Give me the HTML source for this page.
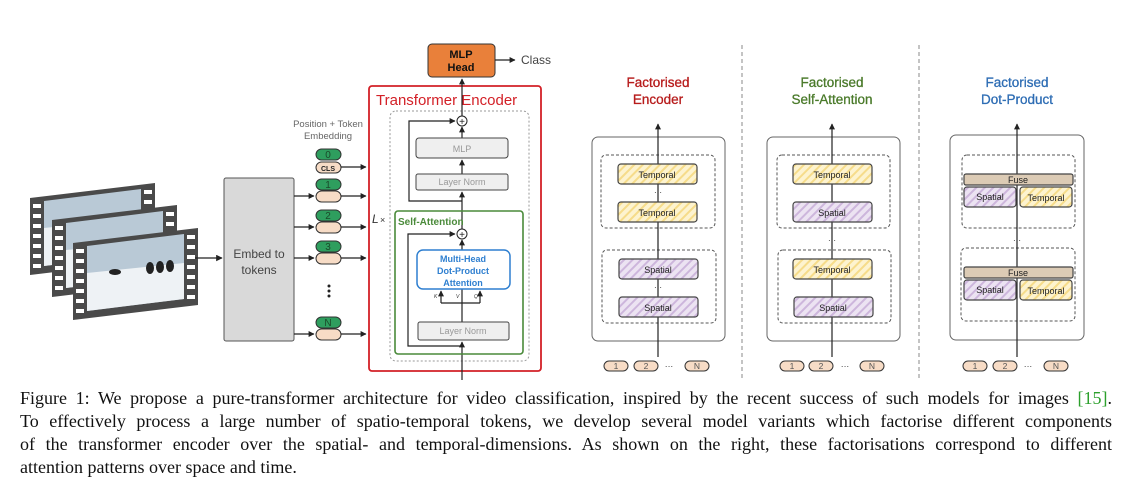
<!DOCTYPE html>
<html><head><meta charset="utf-8"><style>
html,body{margin:0;padding:0;background:#fff;width:1126px;height:484px;overflow:hidden}
svg text{font-family:"Liberation Sans",sans-serif}
.cap{position:absolute;left:20px;top:387px;width:1092px;font-family:"Liberation Serif",serif;font-size:18px;line-height:23px;color:#111}
.cap div{text-align:justify;text-align-last:justify;white-space:nowrap}
.cap div.l{text-align-last:left}
</style></head><body>
<svg width="1126" height="484" viewBox="0 0 1126 484" style="position:absolute;left:0;top:0">
<defs>
<marker id="a" viewBox="0 0 10 10" refX="9" refY="5" markerWidth="5" markerHeight="5" orient="auto"><path d="M0,0L10,5L0,10z" fill="#222"/></marker>
<pattern id="py" width="6" height="6" patternUnits="userSpaceOnUse" patternTransform="rotate(45)"><rect width="6" height="6" fill="#fdf3cf"/><rect width="2" height="6" fill="#f6dc8a"/></pattern>
<pattern id="pp" width="6" height="6" patternUnits="userSpaceOnUse" patternTransform="rotate(45)"><rect width="6" height="6" fill="#ece3f2"/><rect width="2" height="6" fill="#cdb6dc"/></pattern>
<g id="film">
<polygon points="0,0 125,-15 125,62 0,77" fill="#4a4a4a"/>
<polygon points="14,3 111,-9 111,56 14,68" fill="#b9c9d6"/>
<polygon points="14,30 111,20 111,56 14,68" fill="#eef2f5"/>
<g fill="#fff"><rect x="3" y="6" width="8" height="4"/><rect x="3" y="16" width="8" height="4"/><rect x="3" y="26" width="8" height="4"/><rect x="3" y="36" width="8" height="4"/><rect x="3" y="46" width="8" height="4"/><rect x="3" y="56" width="8" height="4"/><rect x="3" y="66" width="8" height="4"/>
<rect x="114" y="-8" width="8" height="4"/><rect x="114" y="2" width="8" height="4"/><rect x="114" y="12" width="8" height="4"/><rect x="114" y="22" width="8" height="4"/><rect x="114" y="32" width="8" height="4"/><rect x="114" y="42" width="8" height="4"/><rect x="114" y="52" width="8" height="4"/></g>
</g>
</defs>
<use href="#film" x="30" y="198"/>
<use href="#film" x="52" y="220"/>
<use href="#film" x="73" y="243"/>
<g fill="#222"><ellipse cx="150" cy="268" rx="4" ry="6"/><ellipse cx="160" cy="267" rx="4" ry="6"/><ellipse cx="170" cy="266" rx="4" ry="6"/><ellipse cx="115" cy="272" rx="6" ry="3"/></g>
<line x1="195" y1="258" x2="222" y2="258" stroke="#222" stroke-width="1.3" marker-end="url(#a)"/>
<rect x="224" y="178" width="70" height="163" rx="2" fill="#d9d9d9" stroke="#555" stroke-width="1"/>
<text x="259" y="258" font-size="12" fill="#444" text-anchor="middle">Embed to</text>
<text x="259" y="274" font-size="12" fill="#444" text-anchor="middle">tokens</text>
<text x="328" y="127" font-size="9.5" fill="#666" text-anchor="middle">Position + Token</text>
<text x="328" y="139" font-size="9.5" fill="#666" text-anchor="middle">Embedding</text>
<g stroke="#333" stroke-width="1">
<rect x="316" y="149" width="25" height="11" rx="5.5" fill="#2e9e5e"/>
<rect x="316" y="162" width="25" height="11" rx="5.5" fill="#f7dcc6"/>
<rect x="316" y="179" width="25" height="11" rx="5.5" fill="#2e9e5e"/>
<rect x="316" y="191" width="25" height="11" rx="5.5" fill="#f7dcc6"/>
<rect x="316" y="210" width="25" height="11" rx="5.5" fill="#2e9e5e"/>
<rect x="316" y="222" width="25" height="11" rx="5.5" fill="#f7dcc6"/>
<rect x="316" y="241" width="25" height="11" rx="5.5" fill="#2e9e5e"/>
<rect x="316" y="253" width="25" height="11" rx="5.5" fill="#f7dcc6"/>
<rect x="316" y="317" width="25" height="11" rx="5.5" fill="#2e9e5e"/>
<rect x="316" y="329" width="25" height="11" rx="5.5" fill="#f7dcc6"/>
</g>
<g font-size="10" fill="#1a4a2a" text-anchor="middle"><text x="328" y="158">0</text><text x="328" y="188">1</text><text x="328" y="219">2</text><text x="328" y="250">3</text><text x="328" y="326">N</text></g>
<text x="328" y="171" font-size="7" font-weight="bold" fill="#222" text-anchor="middle">CLS</text>
<g fill="#222"><circle cx="329" cy="286" r="1.5"/><circle cx="329" cy="291" r="1.5"/><circle cx="329" cy="296" r="1.5"/></g>
<g stroke="#222" stroke-width="1.2" marker-end="url(#a)">
<line x1="294" y1="196" x2="314" y2="196"/><line x1="294" y1="227" x2="314" y2="227"/><line x1="294" y1="258" x2="314" y2="258"/><line x1="294" y1="334" x2="314" y2="334"/>
<line x1="341" y1="167" x2="366" y2="167"/><line x1="341" y1="196" x2="366" y2="196"/><line x1="341" y1="227" x2="366" y2="227"/><line x1="341" y1="258" x2="366" y2="258"/><line x1="341" y1="334" x2="366" y2="334"/>
</g>
<rect x="369" y="86" width="172" height="285" rx="3" fill="none" stroke="#d32027" stroke-width="1.8"/>
<text x="376" y="105" font-size="15" fill="#d32027">Transformer  Encoder</text>
<rect x="390" y="111" width="139" height="250" rx="6" fill="none" stroke="#999" stroke-width="1" stroke-dasharray="2,2"/>
<rect x="428" y="44" width="67" height="33" rx="4" fill="#e9803a" stroke="#333" stroke-width="1"/>
<text x="461" y="58" font-size="11" font-weight="bold" fill="#111" text-anchor="middle">MLP</text>
<text x="461" y="71" font-size="11" font-weight="bold" fill="#111" text-anchor="middle">Head</text>
<line x1="495" y1="60" x2="515" y2="60" stroke="#222" stroke-width="1.2" marker-end="url(#a)"/>
<text x="521" y="64" font-size="12" fill="#444">Class</text>
<g stroke="#222" stroke-width="1.2" fill="none">
<line x1="462" y1="380" x2="462" y2="342" marker-end="url(#a)"/>
<line x1="462" y1="322" x2="462" y2="240" marker-end="url(#a)"/>
<polyline points="462,346 408,346 408,234 455,234" marker-end="url(#a)"/>
<polyline points="441,303 480,303"/>
<line x1="441" y1="303" x2="441" y2="291" marker-end="url(#a)"/>
<line x1="480" y1="303" x2="480" y2="291" marker-end="url(#a)"/>
<line x1="462" y1="229" x2="462" y2="192" marker-end="url(#a)"/>
<line x1="462" y1="174" x2="462" y2="160" marker-end="url(#a)"/>
<line x1="462" y1="138" x2="462" y2="127" marker-end="url(#a)"/>
<polyline points="462,201 409,201 409,121 455,121" marker-end="url(#a)"/>
<line x1="462" y1="116" x2="462" y2="79" marker-end="url(#a)"/>
</g>
<circle cx="462" cy="121" r="5" fill="#fff" stroke="#222"/><text x="462" y="125" font-size="10" text-anchor="middle" fill="#222">+</text>
<circle cx="462" cy="234" r="5" fill="#fff" stroke="#222"/><text x="462" y="238" font-size="10" text-anchor="middle" fill="#222">+</text>
<rect x="416" y="138" width="92" height="20" rx="3" fill="#efefef" stroke="#444"/>
<text x="462" y="152" font-size="9" fill="#999" text-anchor="middle">MLP</text>
<rect x="416" y="174" width="92" height="16" rx="2" fill="#efefef" stroke="#444"/>
<text x="462" y="185" font-size="9" fill="#999" text-anchor="middle">Layer Norm</text>
<text x="372" y="223" font-size="12" font-style="italic" fill="#333">L</text><text x="380" y="223" font-size="9" fill="#333">×</text>
<rect x="395" y="211" width="128" height="143" rx="3" fill="none" stroke="#4a8a3a" stroke-width="1.6"/>
<text x="398" y="225" font-size="10" font-weight="bold" fill="#4a8a3a">Self-Attention</text>
<rect x="417" y="250" width="93" height="39" rx="6" fill="#fff" stroke="#2e7fd0" stroke-width="1.5"/>
<g font-size="9" font-weight="bold" fill="#2e7fd0" text-anchor="middle"><text x="463" y="262">Multi-Head</text><text x="463" y="274">Dot-Product</text><text x="463" y="286">Attention</text></g>
<g font-size="5" fill="#333" font-style="italic"><text x="434" y="298">K</text><text x="456" y="298">V</text><text x="474" y="298">Q</text></g>
<rect x="418" y="322" width="91" height="18" rx="2" fill="#efefef" stroke="#444"/>
<text x="463" y="334" font-size="9" fill="#999" text-anchor="middle">Layer Norm</text>
<line x1="742" y1="45" x2="742" y2="380" stroke="#888" stroke-dasharray="4,3"/>
<line x1="919" y1="45" x2="919" y2="380" stroke="#888" stroke-dasharray="4,3"/>
<g font-size="13.5" text-anchor="middle" stroke-width="0.3"><text x="658" y="87" fill="#b71c1c" stroke="#b71c1c">Factorised</text><text x="658" y="104" fill="#b71c1c" stroke="#b71c1c">Encoder</text>
<text x="832" y="87" fill="#4a7a2a" stroke="#4a7a2a">Factorised</text><text x="832" y="104" fill="#4a7a2a" stroke="#4a7a2a">Self-Attention</text>
<text x="1017" y="87" fill="#2e6db4" stroke="#2e6db4">Factorised</text><text x="1017" y="104" fill="#2e6db4" stroke="#2e6db4">Dot-Product</text></g>
<g fill="none" stroke="#666" stroke-width="1">
<rect x="592" y="137" width="133" height="204" rx="6"/>
<rect x="767" y="137" width="133" height="204" rx="6"/>
<rect x="950" y="135" width="134" height="205" rx="6"/>
</g>
<g fill="none" stroke="#555" stroke-dasharray="3,2">
<rect x="601" y="155" width="114" height="73" rx="5"/><rect x="602" y="250" width="114" height="73" rx="5"/>
<rect x="777" y="155" width="113" height="73" rx="5"/><rect x="778" y="250" width="113" height="73" rx="5"/>
<rect x="962" y="155" width="113" height="73" rx="5"/><rect x="961" y="248" width="114" height="73" rx="5"/>
</g>
<g stroke="#222" stroke-width="1.2" marker-end="url(#a)">
<line x1="658" y1="357" x2="658" y2="124"/><line x1="832" y1="357" x2="832" y2="124"/><line x1="1017" y1="357" x2="1017" y2="124"/>
</g>
<g stroke="#444" stroke-width="1.2">
<rect x="618" y="164" width="79" height="20" rx="3" fill="url(#py)"/><rect x="618" y="202" width="79" height="20" rx="3" fill="url(#py)"/>
<rect x="619" y="259" width="79" height="20" rx="3" fill="url(#pp)"/><rect x="619" y="297" width="79" height="20" rx="3" fill="url(#pp)"/>
<rect x="793" y="164" width="79" height="20" rx="3" fill="url(#py)"/><rect x="793" y="202" width="79" height="20" rx="3" fill="url(#pp)"/>
<rect x="793" y="259" width="79" height="20" rx="3" fill="url(#py)"/><rect x="794" y="297" width="79" height="20" rx="3" fill="url(#pp)"/>
<rect x="964" y="174" width="109" height="11" rx="2" fill="#dccbb5"/>
<rect x="964" y="187" width="52" height="20" rx="3" fill="url(#pp)"/><rect x="1020" y="187" width="52" height="20" rx="3" fill="url(#py)"/>
<rect x="964" y="267" width="109" height="11" rx="2" fill="#dccbb5"/>
<rect x="964" y="280" width="52" height="20" rx="3" fill="url(#pp)"/><rect x="1020" y="280" width="52" height="20" rx="3" fill="url(#py)"/>
</g>
<g font-size="9" fill="#222" text-anchor="middle">
<text x="657" y="178">Temporal</text><text x="657" y="216">Temporal</text><text x="658" y="273">Spatial</text><text x="658" y="311">Spatial</text>
<text x="832" y="178">Temporal</text><text x="832" y="216">Spatial</text><text x="832" y="273">Temporal</text><text x="833" y="311">Spatial</text>
<text x="1018" y="183">Fuse</text><text x="990" y="200">Spatial</text><text x="1046" y="201">Temporal</text>
<text x="1018" y="276">Fuse</text><text x="990" y="293">Spatial</text><text x="1046" y="294">Temporal</text>
</g>
<g font-size="8" fill="#222" text-anchor="middle"><text x="658" y="195">···</text><text x="658" y="290">···</text><text x="832" y="243">···</text><text x="1017" y="243">···</text></g>
<g stroke="#333" fill="#f7dcc6">
<rect x="604" y="361" width="24" height="10" rx="5"/><rect x="634" y="361" width="24" height="10" rx="5"/><rect x="685" y="361" width="24" height="10" rx="5"/>
<rect x="780" y="361" width="24" height="10" rx="5"/><rect x="809" y="361" width="24" height="10" rx="5"/><rect x="860" y="361" width="24" height="10" rx="5"/>
<rect x="963" y="361" width="24" height="10" rx="5"/><rect x="993" y="361" width="24" height="10" rx="5"/><rect x="1044" y="361" width="24" height="10" rx="5"/>
</g>
<g font-size="8.5" fill="#555" text-anchor="middle">
<text x="616" y="369">1</text><text x="646" y="369">2</text><text x="669" y="369" fill="#222">···</text><text x="697" y="369">N</text>
<text x="792" y="369">1</text><text x="821" y="369">2</text><text x="845" y="369" fill="#222">···</text><text x="872" y="369">N</text>
<text x="975" y="369">1</text><text x="1005" y="369">2</text><text x="1028" y="369" fill="#222">···</text><text x="1056" y="369">N</text>
</g>
</svg>
<div class="cap">
<div>Figure 1: We propose a pure-transformer architecture for video classification, inspired by the recent success of such models for images <span style="color:#2ca02c">[15]</span>.</div>
<div>To effectively process a large number of spatio-temporal tokens, we develop several model variants which factorise different components</div>
<div>of the transformer encoder over the spatial- and temporal-dimensions. As shown on the right, these factorisations correspond to different</div>
<div class="l">attention patterns over space and time.</div>
</div>
</body></html>
